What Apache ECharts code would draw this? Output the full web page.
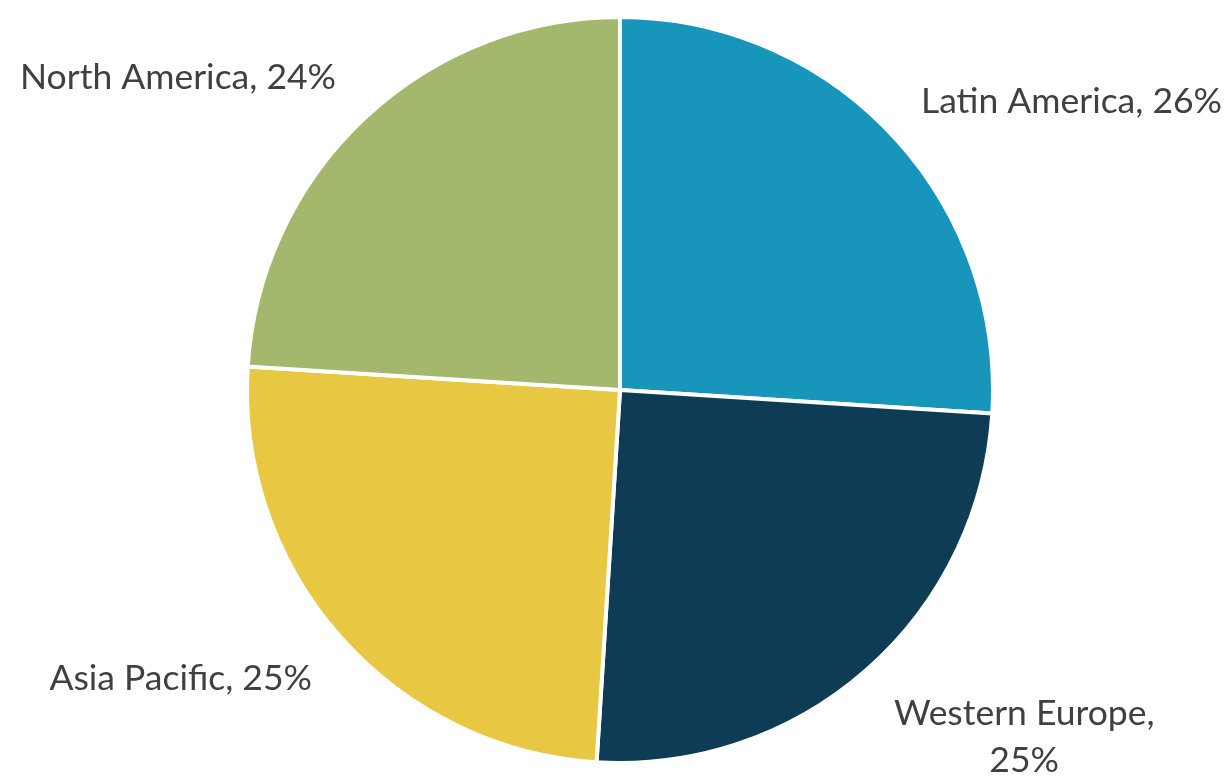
<!DOCTYPE html>
<html>
<head>
<meta charset="utf-8">
<script src="https://cdn.jsdelivr.net/npm/echarts@6/dist/echarts.min.js"></script>
<style>
  html, body { margin: 0; padding: 0; background: #ffffff; }
  #chart { width: 1230px; height: 777px; }
</style>
</head>
<body>
<div id="chart"></div>
<script>
// Regional share, clockwise from 12 o'clock
const regions = ['Latin America', 'Western Europe', 'Asia Pacific', 'North America'];
const shares = [26, 25, 25, 24];
const colors = ['#1795bb', '#0f3c55', '#e8c743', '#a3b86c'];

// Per-slice label placement: radial reach and gap to the text
const labelReach = [48, 90, 63, 55];
const labelGap = [-6, -33, -19, -9];

const labelFont = { fontFamily: 'Lato', fontSize: 35.5, color: '#404040' };

const chart = echarts.init(document.getElementById('chart'), null, { renderer: 'canvas' });

const data = regions.map((name, i) => {
  const item = {
    name,
    value: shares[i],
    itemStyle: { color: colors[i] },
    labelLine: { length: labelReach[i] },
    label: { distanceToLabelLine: labelGap[i] }
  };
  if (name === 'Western Europe') {
    // two centred lines
    item.label.formatter = '{c|{b},}\n{c|{d}%}';
    item.label.rich = {
      c: Object.assign({ width: 262, align: 'center', lineHeight: 47 }, labelFont)
    };
  }
  return item;
});

chart.setOption({
  animation: false,
  backgroundColor: '#ffffff',
  series: [{
    type: 'pie',
    center: [620, 390],
    radius: 373,
    startAngle: 90,
    clockwise: true,
    avoidLabelOverlap: false,
    data,
    itemStyle: { borderColor: '#ffffff', borderWidth: 4 },
    label: Object.assign({
      show: true,
      position: 'outside',
      formatter: '{b}, {d}%',
      lineHeight: 45
    }, labelFont),
    labelLine: { show: false, length: 48, length2: 0 }
  }]
});
</script>
</body>
</html>
